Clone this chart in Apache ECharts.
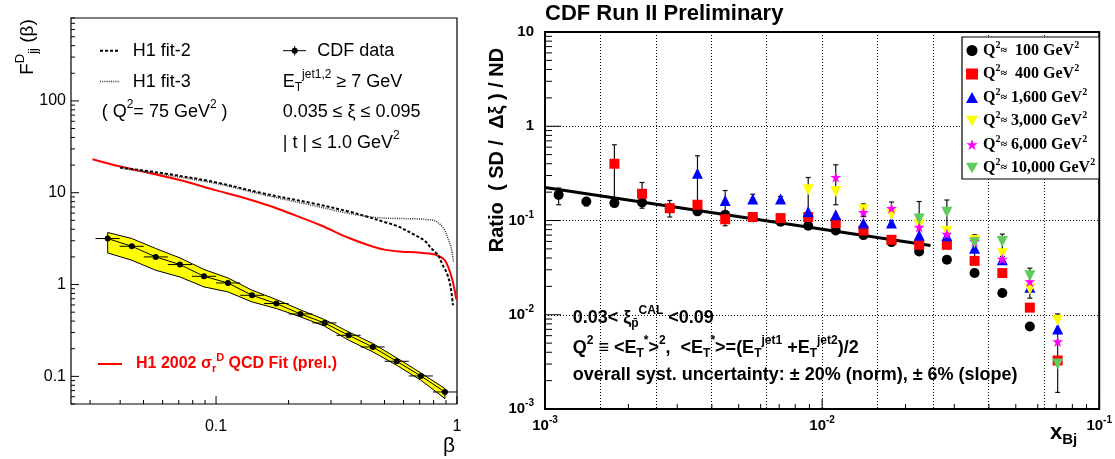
<!DOCTYPE html>
<html><head><meta charset="utf-8">
<script src="https://cdn.jsdelivr.net/npm/echarts@6/dist/echarts.min.js"></script>
<style>html,body{margin:0;padding:0;background:#fff}#c{width:1115px;height:459px}</style>
</head><body><div id="c"></div>
<script>
// ---------------- Left panel: F_jj^D(beta) ----------------
const cdfBeta  = [0.0355,0.0447,0.0562,0.0708,0.0891,0.112,0.141,0.178,0.224,0.282,0.355,0.447,0.562,0.708,0.891];
const cdfBinLo = [0.0316,0.0398,0.0501,0.0631,0.0794,0.1,0.126,0.158,0.2,0.251,0.316,0.398,0.501,0.631,0.794];
const cdfBinHi = [0.0398,0.0501,0.0631,0.0794,0.1,0.126,0.158,0.2,0.251,0.316,0.398,0.501,0.631,0.794,1.0];
const cdfF      = [3.17,2.61,2.0,1.65,1.23,1.04,0.764,0.621,0.478,0.382,0.280,0.209,0.146,0.101,0.0676];
const bandUpper = [3.69,3.17,2.47,1.95,1.46,1.18,0.868,0.687,0.530,0.416,0.305,0.228,0.159,0.109,0.0736];
const bandLower = [2.21,1.84,1.43,1.21,0.943,0.832,0.647,0.548,0.445,0.352,0.248,0.185,0.132,0.0908,0.0573];

const h1QcdBeta = [0.0307,0.04,0.054,0.072,0.1,0.127,0.164,0.212,0.273,0.352,0.43,0.5,0.59,0.69,0.81,0.86,0.89,0.92,0.95,0.975,0.993];
const h1QcdF    = [23.2,19.3,16.2,13.6,10.6,9.0,7.3,5.7,4.4,3.25,2.68,2.4,2.28,2.23,2.12,1.98,1.84,1.55,1.2,0.9,0.69];
const fit2Beta  = [0.04,0.061,0.098,0.158,0.256,0.35,0.413,0.5,0.569,0.65,0.734,0.78,0.834,0.87,0.909,0.94,0.962];
const fit2F     = [18.8,16.2,13.1,9.8,7.6,6.3,5.6,4.8,4.3,3.6,3.0,2.5,2.09,1.65,1.32,0.95,0.595];
const fit3Beta  = [0.04,0.06,0.1,0.16,0.25,0.35,0.45,0.55,0.67,0.75,0.81,0.86,0.89,0.92,0.947,0.967];
const fit3F     = [18.5,15.8,12.6,9.4,7.3,6.0,5.4,5.25,5.2,5.1,4.95,4.4,3.9,3.1,2.5,1.76];

// ---------------- Right panel: Ratio SD/ND vs x_Bj ----------------
const xBj = [0.00112,0.00141,0.00178,0.00224,0.00282,0.00355,0.00447,0.00562,0.00708,0.00891,0.0112,0.0141,0.0178,0.0224,0.0282,0.0355,0.0447,0.0562,0.0708];
const q100   = [0.187,0.159,0.153,0.155,0.135,0.125,0.115,0.108,0.097,0.0879,0.0784,0.07,0.059,0.0469,0.0383,0.0277,0.017,0.0075,null];
const q400   = [null,null,0.40,0.192,0.135,0.147,0.103,0.109,0.106,0.109,0.0938,0.0784,0.0624,0.0552,0.0552,0.0373,0.0277,0.0119,0.00327];
const q1600  = [null,null,null,null,null,0.318,0.163,0.169,0.169,0.124,0.115,0.094,0.094,0.0697,0.0689,0.0509,0.0383,0.0196,0.00705];
const q3000  = [null,null,null,null,null,null,null,null,null,0.212,0.203,0.13,0.115,0.09,0.0764,0.0614,0.0444,0.0187,0.0087];
const q6000  = [null,null,null,null,null,null,null,null,null,null,0.288,0.122,0.135,0.085,0.0717,0.06,0.039,0.0225,0.0052];
const q10000 = [null,null,null,null,null,null,null,null,null,null,null,null,null,0.104,0.122,0.058,0.0599,0.0259,0.003];
const errBars = [ // [x, low, high]
  [0.00112,0.147,0.221],[0.00141,0.143,0.172],[0.00178,0.153,0.636],[0.00224,0.135,0.253],
  [0.00282,0.109,0.163],[0.00355,0.14,0.486],[0.00447,0.088,0.208],[0.00562,0.155,0.19],
  [0.00708,0.155,0.18],[0.00891,0.12,0.286],[0.0112,0.147,0.39],[0.0141,0.11,0.15],
  [0.0178,0.1,0.157],[0.0224,0.045,0.159],[0.0282,0.069,0.165],[0.0355,0.034,0.0705],
  [0.0447,0.0415,0.0717],[0.0562,0.015,0.0312],[0.0708,0.0015,0.0102]
];
const fitX = [0.001, 0.0246];
const fitY = [0.224, 0.0543];
const seriesNames = ['Q2 100','Q2 400','Q2 1,600','Q2 3,000','Q2 6,000','Q2 10,000'];
const legendLabels = ['  100','  400',' 1,600',' 3,000',' 6,000',' 10,000'];

const SANS = 'Liberation Sans', SERIF = 'Liberation Serif';
const INV_TRI = 'path://M0,0L100,0L50,86.6Z';
const STAR = 'path://M50,0L61.2,34.5L97.6,34.5L68.2,55.9L79.4,90.5L50,69.1L20.6,90.5L31.8,55.9L2.4,34.5L38.8,34.5Z';

function logTicks(min, max) {
  const out = [];
  for (let e = Math.floor(Math.log10(min)) - 1; e <= Math.ceil(Math.log10(max)); e++) {
    for (let m = 1; m <= 9; m++) {
      const v = m * Math.pow(10, e);
      if (v >= min * (1 - 1e-9) && v <= max * (1 + 1e-9)) out.push([v, m === 1]);
    }
  }
  return out;
}
function decExp(v) { const e = Math.log10(v), r = Math.round(e); return Math.abs(e - r) < 1e-6 ? r : null; }
function decLabel(v) { const r = decExp(v); if (r === null) return ''; return r >= 0 ? String(Math.pow(10, r)) : Math.pow(10, r).toFixed(-r); }
function powLabel(v) { const r = decExp(v); if (r === null) return ''; if (r === 1) return '{m|10}'; if (r === 0) return '{m|1}'; return '{m|10}{s|' + r + '}'; }

function tickSeries(xi, yi, data, horizontal) {
  return {
    type: 'custom', xAxisIndex: xi, yAxisIndex: yi, data: data, silent: true, clip: false, z: 6,
    renderItem: function (params, api) {
      const p = api.coord([api.value(0), api.value(1)]);
      const len = api.value(2);
      const shape = horizontal ? {x1: p[0], y1: p[1], x2: p[0] + len, y2: p[1]} : {x1: p[0], y1: p[1], x2: p[0], y2: p[1] - len};
      return {type: 'line', shape: shape, style: {stroke: '#000', lineWidth: 1}};
    }
  };
}
const lxMin = 0.025, lxMax = 1, lyMin = 0.05, lyMax = 800;
const rxMin = 0.001, rxMax = 0.1, ryMin = 0.001, ryMax = 10;
const leftXTicks = logTicks(lxMin, lxMax).map(t => [t[0], lyMin, t[1] ? 8 : 4]);
const leftYTicks = logTicks(lyMin, lyMax).map(t => [lxMin, t[0], t[1] ? 8 : 4]);
const rightXTicks = logTicks(rxMin, rxMax).map(t => [t[0], ryMin, t[1] ? 10 : 5]);
const rightYTicks = logTicks(ryMin, ryMax).map(t => [rxMin, t[0], t[1] ? 16 : 7]);

function gRich(size, weight, color, family) {
  const s = Math.round(size * 0.68);
  family = family || SANS;
  return {
    m:  {fontSize: size, fontWeight: weight, fontFamily: family, fill: color},
    sp: {fontSize: s, fontWeight: weight, fontFamily: family, fill: color, padding: [0, 0, Math.round(size * 0.8), 0]},
    sb: {fontSize: s, fontWeight: weight, fontFamily: family, fill: color, padding: [Math.round(size * 0.6), 0, 0, 0]}
  };
}
function txt(x, y, text, size, weight, color, extra) {
  const o = {type: 'text', x: x, y: y, z: 50, silent: true,
    style: {text: text, rich: gRich(size, weight, color), fontSize: size, fontWeight: weight, fontFamily: SANS, fill: color, align: 'left', verticalAlign: 'middle'}};
  if (extra) Object.assign(o, extra);
  return o;
}
const axisRich = {
  m: {fontSize: 15, fontWeight: 'bold', fontFamily: SANS, color: '#000'},
  s: {fontSize: 10, fontWeight: 'bold', fontFamily: SANS, color: '#000', padding: [0, 0, 11, 0]}
};
const legendRich = {
  q: {fontSize: 16, fontWeight: 'bold', fontFamily: SERIF, color: '#000'},
  a: {fontSize: 12, fontWeight: 'bold', fontFamily: SERIF, color: '#000'},
  s: {fontSize: 10, fontWeight: 'bold', fontFamily: SERIF, color: '#000', padding: [0, 0, 11, 0]}
};

const markerDefs = [
  {d: q100,   symbol: 'circle',   color: '#000000', size: 10},
  {d: q400,   symbol: 'rect',     color: '#ff0000', size: 10},
  {d: q1600,  symbol: 'triangle', color: '#0000ff', size: 11},
  {d: q3000,  symbol: INV_TRI,    color: '#ffff00', size: 11},
  {d: q6000,  symbol: STAR,       color: '#ff00ff', size: 11},
  {d: q10000, symbol: INV_TRI,    color: '#5ccc5c', size: 11}
];
const scatterSeries = markerDefs.map((m, i) => ({
  type: 'scatter', name: seriesNames[i], xAxisIndex: 1, yAxisIndex: 1, z: 10 + i,
  symbol: m.symbol, symbolSize: m.size, itemStyle: {color: m.color, opacity: 1},
  data: xBj.map((x, k) => m.d[k] == null ? null : [x, m.d[k]]).filter(p => p)
}));

const option = {
  animation: false,
  backgroundColor: '#fff',
  grid: [
    {left: 71, top: 18, width: 386, height: 386, show: true, borderColor: '#000', borderWidth: 1.2, backgroundColor: 'rgba(0,0,0,0)'},
    {left: 545, top: 32, width: 557, height: 377, show: true, borderColor: '#000', borderWidth: 2, backgroundColor: 'rgba(0,0,0,0)'}
  ],
  xAxis: [
    {type: 'log', gridIndex: 0, min: lxMin, max: lxMax, axisLine: {show: false}, axisTick: {show: false}, splitLine: {show: false},
     axisLabel: {formatter: decLabel, margin: 15, fontSize: 16, fontFamily: SANS, color: '#000', showMinLabel: true, showMaxLabel: true}},
    {type: 'log', gridIndex: 1, min: rxMin, max: rxMax, axisLine: {show: false}, axisTick: {show: false}, splitLine: {show: false},
     axisLabel: {formatter: powLabel, rich: axisRich, margin: 6, showMinLabel: true, showMaxLabel: true}},
    {type: 'value', gridIndex: 1, min: -3, max: -1, interval: 0.2, position: 'top', axisLine: {show: false}, axisTick: {show: false},
     axisLabel: {show: false}, splitLine: {show: true, lineStyle: {type: [1, 2], color: '#000', width: 1}}}
  ],
  yAxis: [
    {type: 'log', gridIndex: 0, min: lyMin, max: lyMax, axisLine: {show: false}, axisTick: {show: false}, splitLine: {show: false},
     axisLabel: {formatter: decLabel, margin: 5, fontSize: 16, fontFamily: SANS, color: '#000'}},
    {type: 'log', gridIndex: 1, min: ryMin, max: ryMax, axisLine: {show: false}, axisTick: {show: false},
     splitLine: {show: true, lineStyle: {type: [1, 2], color: '#000', width: 1}},
     axisLabel: {formatter: powLabel, rich: axisRich, margin: 11}}
  ],
  legend: {
    show: true, orient: 'vertical', left: 962, top: 37, padding: [3, 4, 3, 4], itemGap: 5,
    itemWidth: 12, itemHeight: 11, borderColor: '#000', borderWidth: 1.2, backgroundColor: '#fff',
    textStyle: {fontFamily: SERIF, fontWeight: 'bold', fontSize: 16, color: '#000', rich: legendRich},
    formatter: function (name) {
      const i = seriesNames.indexOf(name);
      return '{q|Q}{s|2}{a|≈}{q|' + legendLabels[i] + ' GeV}{s|2}';
    },
    data: seriesNames
  },
  series: [
    {type: 'custom', xAxisIndex: 0, yAxisIndex: 0, z: 2, silent: true, data: [[cdfBeta[0], cdfF[0]]],
     renderItem: function (params, api) {
       const pts = [];
       for (let i = 0; i < cdfBeta.length; i++) pts.push(api.coord([cdfBeta[i], bandUpper[i]]));
       for (let i = cdfBeta.length - 1; i >= 0; i--) pts.push(api.coord([cdfBeta[i], bandLower[i]]));
       return {type: 'polygon', shape: {points: pts}, style: {fill: '#ffff00', stroke: '#000', lineWidth: 1}};
     }},
    {type: 'custom', xAxisIndex: 0, yAxisIndex: 0, z: 3, silent: true, encode: {x: [0, 1], y: 2},
     data: cdfF.map((f, i) => [cdfBinLo[i], cdfBinHi[i], f]),
     renderItem: function (params, api) {
       const a = api.coord([api.value(0), api.value(2)]), b = api.coord([api.value(1), api.value(2)]);
       return {type: 'line', shape: {x1: a[0], y1: a[1], x2: b[0], y2: b[1]}, style: {stroke: '#000', lineWidth: 1}};
     }},
    {type: 'line', name: 'CDF data', xAxisIndex: 0, yAxisIndex: 0, z: 4, data: cdfBeta.map((b, i) => [b, cdfF[i]]),
     symbol: 'circle', symbolSize: 6, showSymbol: true, lineStyle: {color: '#000', width: 1}, itemStyle: {color: '#000'}},
    {type: 'line', name: 'H1 2002', xAxisIndex: 0, yAxisIndex: 0, z: 5, data: h1QcdBeta.map((b, i) => [b, h1QcdF[i]]),
     showSymbol: false, smooth: 0.35, lineStyle: {color: '#ff0000', width: 2}},
    {type: 'line', name: 'H1 fit-2', xAxisIndex: 0, yAxisIndex: 0, z: 5, data: fit2Beta.map((b, i) => [b, fit2F[i]]),
     showSymbol: false, smooth: 0.35, lineStyle: {color: '#000', width: 2, type: [3, 2]}},
    {type: 'line', name: 'H1 fit-3', xAxisIndex: 0, yAxisIndex: 0, z: 5, data: fit3Beta.map((b, i) => [b, fit3F[i]]),
     showSymbol: false, smooth: 0.35, lineStyle: {color: '#333', width: 1.5, type: [1, 1.2]}},
    tickSeries(0, 0, leftXTicks, false),
    tickSeries(0, 0, leftYTicks, true),
    tickSeries(1, 1, rightXTicks, false),
    tickSeries(1, 1, rightYTicks, true),
    {type: 'line', name: 'fit', xAxisIndex: 1, yAxisIndex: 1, z: 8, data: fitX.map((x, i) => [x, fitY[i]]),
     showSymbol: false, lineStyle: {color: '#000', width: 3}},
    {type: 'custom', xAxisIndex: 1, yAxisIndex: 1, z: 7, silent: true, encode: {x: 0, y: [1, 2]}, data: errBars,
     renderItem: function (params, api) {
       const lo = api.coord([api.value(0), api.value(1)]), hi = api.coord([api.value(0), api.value(2)]);
       const st = {stroke: '#111', lineWidth: 1.2};
       return {type: 'group', children: [
         {type: 'line', shape: {x1: lo[0], y1: lo[1], x2: hi[0], y2: hi[1]}, style: st},
         {type: 'line', shape: {x1: lo[0] - 2.5, y1: lo[1], x2: lo[0] + 2.5, y2: lo[1]}, style: st},
         {type: 'line', shape: {x1: hi[0] - 2.5, y1: hi[1], x2: hi[0] + 2.5, y2: hi[1]}, style: st}
       ]};
     }}
  ].concat(scatterSeries),
  graphic: [
    {type: 'line', z: 50, shape: {x1: 100, y1: 50.7, x2: 120, y2: 50.7}, style: {stroke: '#000', lineWidth: 2, lineDash: [3, 2]}},
    {type: 'line', z: 50, shape: {x1: 100, y1: 81.5, x2: 120, y2: 81.5}, style: {stroke: '#333', lineWidth: 1.5, lineDash: [1, 1.2]}},
    {type: 'line', z: 50, shape: {x1: 283, y1: 50.7, x2: 306, y2: 50.7}, style: {stroke: '#000', lineWidth: 1}},
    {type: 'line', z: 50, shape: {x1: 294.7, y1: 46, x2: 294.7, y2: 55.5}, style: {stroke: '#000', lineWidth: 1}},
    {type: 'circle', z: 51, shape: {cx: 294.7, cy: 50.7, r: 3}, style: {fill: '#000'}},
    {type: 'line', z: 50, shape: {x1: 98, y1: 364, x2: 122, y2: 364}, style: {stroke: '#ff0000', lineWidth: 2}},
    txt(132.7, 51, 'H1 fit-2', 18, 'normal', '#000'),
    txt(132.7, 82, 'H1 fit-3', 18, 'normal', '#000'),
    txt(101.7, 112, '{m|( Q}{sp|2}{m|= 75 GeV}{sp|2}{m| )}', 18, 'normal', '#000'),
    txt(317.3, 51, 'CDF data', 18, 'normal', '#000'),
    txt(282.7, 82, '{m|E}{sb|T}{sp|jet1,2}{m| ≥ 7 GeV}', 18, 'normal', '#000'),
    txt(282.7, 112, '0.035 ≤ ξ ≤ 0.095', 18, 'normal', '#000'),
    txt(282.7, 143, '{m|| t | ≤ 1.0 GeV}{sp|2}', 18, 'normal', '#000'),
    txt(136, 364, '{m|H1 2002 σ}{sb|r}{sp|D}{m| QCD Fit (prel.)}', 16, 'bold', '#ff0000'),
    txt(28, 47, '{m|F}{sp|D}{sb|jj}{m| (β)}', 19, 'normal', '#000', {rotation: Math.PI / 2, style: {text: '{m|F}{sp|D}{sb|jj}{m| (β)}', rich: gRich(19, 'normal', '#000'), align: 'center', verticalAlign: 'middle'}}),
    txt(443, 446, 'β', 21, 'normal', '#000'),
    txt(545, 14, 'CDF Run II Preliminary', 22, 'bold', '#000'),
    txt(497, 150, 'Ratio  ( SD /  Δξ ) / ND', 20, 'bold', '#000', {rotation: Math.PI / 2, style: {text: 'Ratio  ( SD /  Δξ ) / ND', fontSize: 20, fontWeight: 'bold', fontFamily: SANS, fill: '#000', align: 'center', verticalAlign: 'middle'}}),
    txt(572.7, 318, '{m|0.03< ξ}{sb|p̄}{sp|CAL}{m| <0.09}', 18, 'bold', '#000'),
    txt(572.7, 348, '{m|Q}{sp|2}{m| ≡ <E}{sb|T}{sp|*}{m|>}{sp|2}{m|,  <E}{sb|T}{sp|*}{m|>=(E}{sb|T}{sp|jet1}{m| +E}{sb|T}{sp|jet2}{m|)/2}', 18, 'bold', '#000'),
    txt(572.7, 375, 'overall syst. uncertainty: ± 20% (norm), ± 6% (slope)', 18, 'bold', '#000'),
    txt(1050, 433, '{m|x}{sb|Bj}', 22, 'bold', '#000')
  ]
};
const chart = echarts.init(document.getElementById('c'), null, {renderer: 'canvas'});
chart.setOption(option);
</script>
</body></html>
